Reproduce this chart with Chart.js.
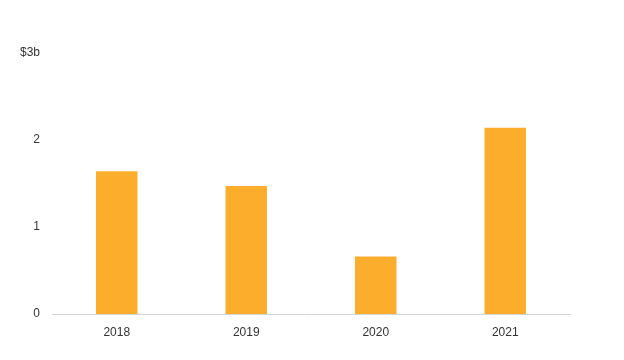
<!DOCTYPE html>
<html>
<head>
<meta charset="utf-8">
<style>
  html, body { margin: 0; padding: 0; background: #fff; }
  canvas { display: block; }
</style>
<script src="https://cdn.jsdelivr.net/npm/chart.js@4"></script>
</head>
<body>
<canvas id="chart" width="624" height="360"></canvas>
<script>
// Data
const years = ['2018', '2019', '2020', '2021'];
const valuesBillions = [1.64, 1.47, 0.66, 2.14];
const yTicks = [0, 1, 2, 3];
const yTickLabels = ['0', '1', '2', '$3b'];

const barColor = '#FBAD2B';
const textColor = '#333333';

/**
 * Makes the bar chart.
 * @param {HTMLCanvasElement} canvas
 * @returns {Chart}
 */
function renderChart(canvas) {
  return new Chart(canvas, {
    type: 'bar',
    data: {
      labels: years,
      datasets: [
        {
          data: valuesBillions,
          backgroundColor: barColor,
          borderWidth: 0,
          barPercentage: 0.32,
          categoryPercentage: 1
        }
      ]
    },
    options: {
      responsive: false,
      animation: false,
      layout: { padding: { top: 53, right: 54, bottom: 0, left: 0 } },
      plugins: {
        legend: { display: false },
        tooltip: { enabled: false }
      },
      scales: {
        x: {
          grid: { display: false, drawTicks: false },
          border: { display: true, color: '#d4d4d4', width: 1 },
          ticks: {
            color: textColor,
            padding: 11,
            font: { family: 'Liberation Sans, Arial, sans-serif', size: 12 }
          },
          afterFit: (scale) => { scale.height = 46; }
        },
        y: {
          min: 0,
          max: 3,
          grid: { display: false, drawTicks: false },
          border: { display: false },
          afterBuildTicks: (scale) => {
            scale.ticks = yTicks.map(v => ({ value: v }));
          },
          ticks: {
            color: textColor,
            padding: 12,
            font: { family: 'Liberation Sans, Arial, sans-serif', size: 12 },
            callback: (value) => yTickLabels[yTicks.indexOf(value)]
          },
          afterFit: (scale) => { scale.width = 52; }
        }
      }
    }
  });
}

renderChart(document.getElementById('chart'));
</script>
</body>
</html>
